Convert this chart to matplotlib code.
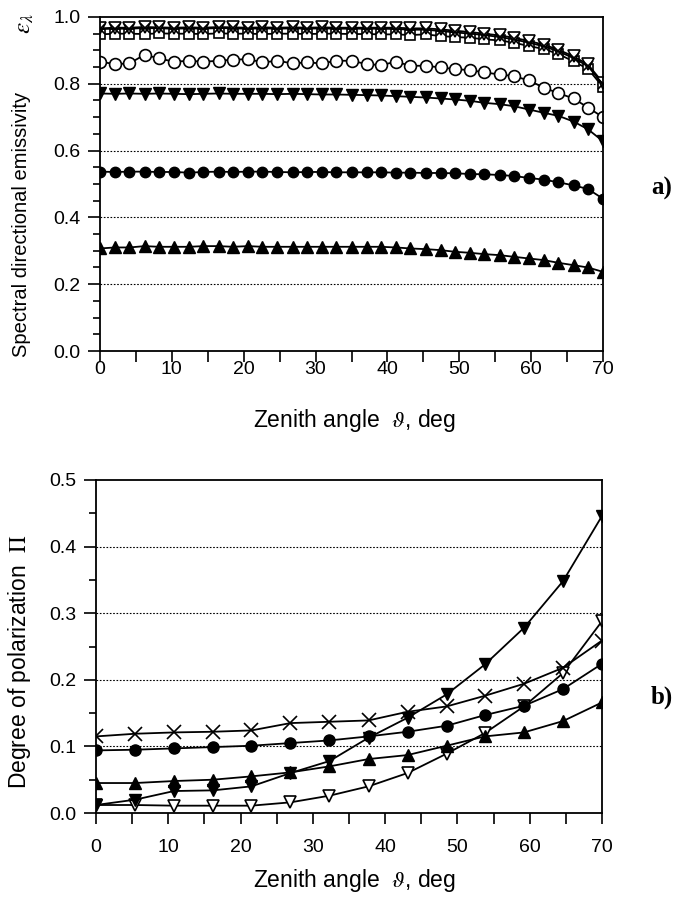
import matplotlib
matplotlib.use("Agg")
import matplotlib.pyplot as plt
from matplotlib.ticker import MultipleLocator

plt.rcParams['font.family'] = ['Liberation Sans', 'DejaVu Sans']
plt.rcParams['mathtext.fontset'] = 'stix'

# ---- panel a) spectral directional emissivity vs zenith angle ----
ang_a = [0, 2.1, 4.1, 6.2, 8.2, 10.3, 12.4, 14.4, 16.5, 18.5, 20.6, 22.6, 24.7, 26.8,
         28.8, 30.9, 32.9, 35.0, 37.1, 39.1, 41.2, 43.2, 45.3, 47.4, 49.4, 51.5,
         53.5, 55.6, 57.6, 59.7, 61.8, 63.8, 65.9, 67.9, 70.0]

eps_tri_open = [0.966, 0.968, 0.968, 0.970, 0.969, 0.968, 0.969, 0.968, 0.970, 0.969,
                0.968, 0.969, 0.968, 0.969, 0.968, 0.969, 0.968, 0.968, 0.968, 0.968,
                0.968, 0.966, 0.966, 0.963, 0.959, 0.955, 0.950, 0.945, 0.938, 0.928,
                0.917, 0.902, 0.882, 0.858, 0.803]
eps_cross = [0.964, 0.965, 0.965, 0.967, 0.966, 0.965, 0.966, 0.965, 0.967, 0.966,
             0.965, 0.966, 0.965, 0.966, 0.965, 0.966, 0.965, 0.965, 0.965, 0.965,
             0.964, 0.962, 0.962, 0.958, 0.954, 0.950, 0.946, 0.940, 0.933, 0.923,
             0.912, 0.897, 0.877, 0.853, 0.798]
eps_square = [0.948, 0.950, 0.950, 0.949, 0.951, 0.950, 0.950, 0.949, 0.951, 0.950,
              0.950, 0.949, 0.950, 0.950, 0.949, 0.950, 0.950, 0.949, 0.949, 0.948,
              0.948, 0.946, 0.948, 0.943, 0.940, 0.938, 0.933, 0.930, 0.923, 0.913,
              0.904, 0.889, 0.867, 0.845, 0.790]
eps_circ_open = [0.866, 0.859, 0.861, 0.887, 0.876, 0.866, 0.869, 0.866, 0.869, 0.872,
                 0.874, 0.864, 0.869, 0.861, 0.864, 0.861, 0.869, 0.869, 0.859, 0.856,
                 0.866, 0.854, 0.854, 0.849, 0.844, 0.841, 0.834, 0.828, 0.823, 0.810,
                 0.788, 0.772, 0.756, 0.729, 0.700]
eps_tri_dn = [0.771, 0.770, 0.771, 0.770, 0.771, 0.770, 0.769, 0.770, 0.771, 0.770,
              0.770, 0.770, 0.769, 0.770, 0.769, 0.768, 0.768, 0.767, 0.766, 0.765,
              0.763, 0.761, 0.759, 0.756, 0.753, 0.749, 0.743, 0.739, 0.733, 0.723,
              0.713, 0.704, 0.687, 0.664, 0.628]
eps_circ = [0.537, 0.536, 0.537, 0.537, 0.536, 0.536, 0.534, 0.536, 0.537, 0.536,
            0.537, 0.537, 0.536, 0.535, 0.536, 0.536, 0.535, 0.535, 0.535, 0.535,
            0.534, 0.534, 0.533, 0.533, 0.532, 0.530, 0.529, 0.527, 0.524, 0.518,
            0.513, 0.505, 0.496, 0.485, 0.456]
eps_tri_up = [0.307, 0.310, 0.310, 0.314, 0.312, 0.312, 0.312, 0.314, 0.314, 0.312,
              0.314, 0.312, 0.312, 0.312, 0.312, 0.312, 0.312, 0.312, 0.312, 0.312,
              0.310, 0.307, 0.305, 0.302, 0.297, 0.294, 0.290, 0.287, 0.282, 0.277,
              0.272, 0.264, 0.257, 0.250, 0.237]

# ---- panel b) degree of polarization vs zenith angle ----
ang_b = [0, 5.4, 10.8, 16.2, 21.5, 26.9, 32.3, 37.7, 43.1, 48.5, 53.8, 59.2, 64.6, 70]
pol_cross = [0.115, 0.119, 0.121, 0.122, 0.124, 0.135, 0.137, 0.139, 0.152, 0.160,
             0.176, 0.194, 0.218, 0.259]
pol_circ = [0.094, 0.095, 0.097, 0.099, 0.101, 0.105, 0.109, 0.115, 0.122, 0.131,
            0.147, 0.161, 0.186, 0.224]
pol_tri_up = [0.045, 0.045, 0.048, 0.050, 0.055, 0.061, 0.070, 0.081, 0.087, 0.101,
              0.115, 0.121, 0.138, 0.166]
pol_tri_dn = [0.012, 0.020, 0.033, 0.034, 0.040, 0.060, 0.078, 0.113, 0.143, 0.178,
              0.223, 0.278, 0.348, 0.446]
pol_tri_open = [0.012, 0.012, 0.011, 0.011, 0.011, 0.016, 0.026, 0.040, 0.060, 0.089,
                0.120, 0.160, 0.210, 0.288]

W, H = 682, 897
fig = plt.figure(figsize=(W / 100, H / 100), dpi=100)
ax1 = fig.add_axes([100 / W, 1 - 351 / H, 503 / W, 334 / H])
ax2 = fig.add_axes([96 / W, 1 - 813 / H, 506 / W, 333 / H])

lw = 1.3
mew = 1.2

# panel a
ax1.plot(ang_a, eps_tri_up, '-^', color='k', lw=lw, ms=8.5, mfc='k', mec='k')
ax1.plot(ang_a, eps_circ, '-o', color='k', lw=lw, ms=7.5, mfc='k', mec='k')
ax1.plot(ang_a, eps_tri_dn, '-v', color='k', lw=lw, ms=8.5, mfc='k', mec='k')
ax1.plot(ang_a, eps_circ_open, '-o', color='k', lw=lw, ms=8.5, mfc='white', mec='k', mew=mew)
ax1.plot(ang_a, eps_square, '-s', color='k', lw=lw, ms=7.5, mfc='white', mec='k', mew=mew)
ax1.plot(ang_a, eps_tri_open, '-v', color='k', lw=lw, ms=8.5, mfc='white', mec='k', mew=mew)
ax1.plot(ang_a, eps_cross, '-x', color='k', lw=lw, ms=7.5, mec='k', mew=mew)

# panel b
ax2.plot(ang_b, pol_tri_open, '-v', color='k', lw=lw, ms=9, mfc='white', mec='k', mew=mew)
ax2.plot(ang_b, pol_tri_up, '-^', color='k', lw=lw, ms=9, mfc='k', mec='k')
ax2.plot(ang_b, pol_tri_dn, '-v', color='k', lw=lw, ms=9, mfc='k', mec='k')
ax2.plot(ang_b, pol_circ, '-o', color='k', lw=lw, ms=8, mfc='k', mec='k')
ax2.plot(ang_b, pol_cross, '-x', color='k', lw=lw, ms=10, mec='k', mew=mew)

for ax, top, major, minor, xpad in [(ax1, 1.0, 0.2, 0.05, -1), (ax2, 0.5, 0.1, 0.05, 11)]:
    ax.set_xlim(0, 70)
    ax.set_ylim(0, top)
    ax.xaxis.set_major_locator(MultipleLocator(10))
    ax.xaxis.set_minor_locator(MultipleLocator(5))
    ax.yaxis.set_major_locator(MultipleLocator(major))
    ax.yaxis.set_minor_locator(MultipleLocator(minor))
    ax.yaxis.set_major_formatter(plt.FormatStrFormatter('%.1f'))
    ax.tick_params(axis='x', which='both', direction='out', length=8, width=1.2,
                   labelsize=14, pad=xpad)
    ax.tick_params(axis='y', which='major', direction='out', length=9, width=1.2,
                   labelsize=14, pad=5)
    ax.tick_params(axis='y', which='minor', direction='out', length=5, width=1.2)
    for s in ax.spines.values():
        s.set_linewidth(1.3)
    for v in range(1, int(round(top / major))):
        ax.axhline(v * major, color='k', lw=0.8, ls=(0, (1.5, 1.5)), zorder=0)

xlab = r'Zenith angle  $\vartheta$, deg'
fig.text(354 / W, 1 - 420 / H, xlab, ha='center', va='center', fontsize=16.5)
fig.text(354 / W, 1 - 880 / H, xlab, ha='center', va='center', fontsize=16.5)

fig.text(22 / W, 1 - 224 / H, 'Spectral directional emissivity',
         rotation=90, ha='center', va='center', fontsize=14.5)
fig.text(24 / W, 1 - 24 / H, r'$\varepsilon_\lambda$',
         rotation=90, ha='center', va='center', fontsize=18)
fig.text(20 / W, 1 - 662 / H, r'Degree of polarization  $\Pi$',
         rotation=90, ha='center', va='center', fontsize=16.5)

fig.text(662 / W, 1 - 188 / H, 'a)', family='Liberation Serif', weight='bold',
         fontsize=18, ha='center', va='center')
fig.text(662 / W, 1 - 697 / H, 'b)', family='Liberation Serif', weight='bold',
         fontsize=18, ha='center', va='center')

fig.savefig('out.png', dpi=100)
